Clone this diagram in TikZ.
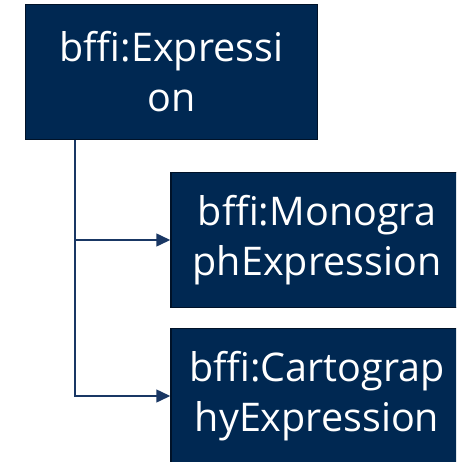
\documentclass[tikz,border=0pt]{standalone}
\usepackage{fontspec}
\setmainfont{Open Sans}
\usepackage{tikz}
\usetikzlibrary{arrows.meta}

\definecolor{boxnavy}{RGB}{0,40,82}
\definecolor{boxedge}{RGB}{0,18,40}
\definecolor{linknavy}{RGB}{25,55,100}

\tikzset{
  classbox/.style={fill=boxnavy, draw=boxedge, line width=1.5pt, text=white,
    minimum width=292pt, minimum height=135pt, align=center, inner sep=0pt,
    font=\fontsize{39.5}{50}\selectfont},
  sublink/.style={draw=linknavy, line width=1.5pt, -{Triangle[length=14pt,width=13pt]}}
}

\begin{document}
\begin{tikzpicture}[x=1pt,y=-1pt]
\useasboundingbox (0,0) rectangle (456,462);
\clip (0,0) rectangle (456,462);
\node[classbox] (expr) at (171.5,72) {bffi:Expressi\\on};
\node[classbox] (mono) at (317,240) {bffi:Monogra\\phExpression};
\node[classbox] (carto) at (317,396) {bffi:Cartograp\\hyExpression};
\coordinate (stem) at ([xshift=50pt]expr.south west);

\foreach \to in {mono,carto}
\draw[sublink] (stem) |- (\to.west);
\end{tikzpicture}
\end{document}
